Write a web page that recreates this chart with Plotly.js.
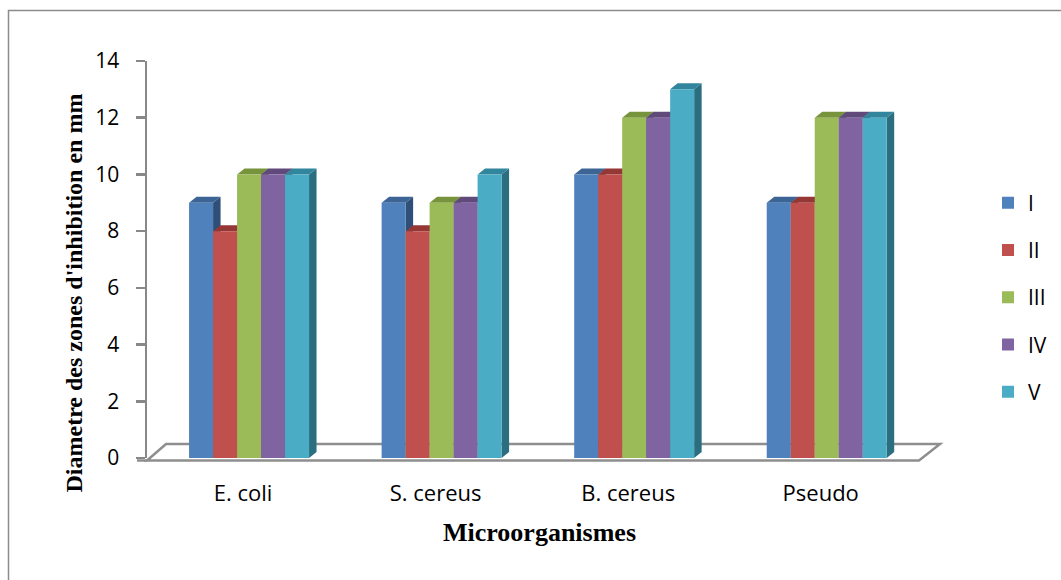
<!DOCTYPE html>
<html>
<head>
<meta charset="utf-8">
<script src="https://cdn.plot.ly/plotly-3.0.1.min.js"></script>
<style>
  html, body { margin: 0; padding: 0; background: #fff; }
  #chart { width: 1061px; height: 580px; }
</style>
</head>
<body>
<div id="chart"></div>
<script>
// Inhibition zone diameters (mm) per microorganism for extracts I–V
const categories = ['E. coli', 'S. cereus', 'B. cereus', 'Pseudo'];
const seriesNames = ['I', 'II', 'III', 'IV', 'V'];
const valuesI   = [9, 9, 10, 9];
const valuesII  = [8, 8, 10, 9];
const valuesIII = [10, 9, 12, 12];
const valuesIV  = [10, 9, 12, 12];
const valuesV   = [10, 10, 13, 12];
const yTicks = [0, 2, 4, 6, 8, 10, 12, 14];

const seriesValues = [valuesI, valuesII, valuesIII, valuesIV, valuesV];
const frontColors = ['#4F81BD', '#C0504D', '#9BBB59', '#8064A2', '#4BACC6'];
const topColors   = ['#3C6494', '#953735', '#77933C', '#604A7B', '#31859C'];
const sideColors  = ['#2F4F78', '#7A2D2B', '#5E7530', '#4D3B62', '#2B6E80'];

// plot geometry (pixels)
const W = 1061, H = 580;
const M = { l: 147, r: 138, t: 61, b: 122, autoexpand: false };
const plotW = W - M.l - M.r, plotH = H - M.t - M.b;
const xRange = [-0.53, 3.5], yRange = [0, 14];
const pxPerX = plotW / (xRange[1] - xRange[0]);
const pxPerY = plotH / (yRange[1] - yRange[0]);

// pixel -> paper helpers for the frame, floor and titles
const px = x => (x - M.l) / plotW;
const py = y => (H - M.b - y) / plotH;

// bar layout: five bars per group
const groupWidth = 0.623;
const barW = groupWidth / seriesNames.length;
// 3D depth of each column, converted to data units
const depthX = 7.5 / pxPerX;
const depthY = 6 / pxPerY;
// category labels sit slightly left of the columns (perspective)
const labelShift = -6 / pxPerX;

const traces = seriesNames.map((name, j) => ({
  type: 'bar',
  name: name,
  legendgroup: name,
  x: categories.map((c, i) => i),
  y: seriesValues[j],
  marker: { color: frontColors[j], line: { width: 0 } },
  hoverinfo: 'skip'
}));

const shapes = [];

// outer chart frame
shapes.push({
  type: 'rect', xref: 'paper', yref: 'paper',
  x0: px(8.5), x1: px(1075), y0: py(595), y1: py(10.5),
  line: { color: '#8C8C8C', width: 1.5 }, fillcolor: 'rgba(0,0,0,0)', layer: 'below'
});

// floor of the 3D plot
shapes.push({
  type: 'path', xref: 'paper', yref: 'paper', layer: 'below',
  path: `M${px(147)},${py(460.5)} L${px(919)},${py(460.5)} L${px(940)},${py(444)} L${px(166)},${py(444)} Z`,
  line: { color: '#8E8E8E', width: 2.5 }, fillcolor: 'rgba(0,0,0,0)'
});
shapes.push({
  type: 'line', xref: 'paper', yref: 'paper', layer: 'below',
  x0: px(137), x1: px(147), y0: py(460.5), y1: py(460.5),
  line: { color: '#8E8E8E', width: 2.5 }
});

// top and side faces of each column, drawn beneath the front faces
categories.forEach((c, i) => {
  seriesNames.forEach((name, j) => {
    const v = seriesValues[j][i];
    const x0 = i - groupWidth / 2 + j * barW;
    const x1 = x0 + barW;
    shapes.push({
      type: 'path', xref: 'x', yref: 'y', layer: 'below',
      path: `M${x1},0 L${x1},${v} L${x1 + depthX},${v + depthY} L${x1 + depthX},${depthY} Z`,
      fillcolor: sideColors[j], line: { width: 0 }
    });
    shapes.push({
      type: 'path', xref: 'x', yref: 'y', layer: 'below',
      path: `M${x0},${v} L${x1},${v} L${x1 + depthX},${v + depthY} L${x0 + depthX},${v + depthY} Z`,
      fillcolor: topColors[j], line: { width: 0 }
    });
  });
});

const tickFont = { family: 'Open Sans, sans-serif', size: 21, color: '#000' };
const catFont = { family: 'Open Sans, sans-serif', size: 22, color: '#000' };

const layout = {
  width: W, height: H,
  margin: M,
  paper_bgcolor: '#fff', plot_bgcolor: 'rgba(0,0,0,0)',
  barmode: 'group',
  bargap: 1 - groupWidth,
  bargroupgap: 0,
  showlegend: true,
  legend: {
    x: px(988), y: py(182.5), xanchor: 'left', yanchor: 'top',
    font: tickFont, tracegroupgap: 17, traceorder: 'grouped',
    bgcolor: 'rgba(0,0,0,0)'
  },
  xaxis: {
    range: xRange, showgrid: false, zeroline: false, showline: false,
    tickvals: categories.map((c, i) => i + labelShift), ticktext: categories,
    ticks: '', tickfont: catFont, ticklabelstandoff: 20
  },
  yaxis: {
    range: yRange, tickvals: yTicks, showgrid: false, zeroline: false,
    showline: true, linecolor: '#888888', linewidth: 2.5,
    ticks: 'outside', ticklen: 9, tickwidth: 2.5, tickcolor: '#888888',
    tickfont: tickFont, ticklabelstandoff: 12
  },
  shapes: shapes,
  annotations: [
    {
      text: "Diametre des zones d'inhibition en mm",
      xref: 'paper', yref: 'paper', x: px(73), y: py(293.5),
      xanchor: 'center', yanchor: 'middle', textangle: -90, showarrow: false,
      font: { family: 'Liberation Serif, Times New Roman, serif', size: 24, color: '#000', weight: 'bold' }
    },
    {
      text: 'Microorganismes',
      xref: 'paper', yref: 'paper', x: px(539), y: py(532),
      xanchor: 'center', yanchor: 'middle', showarrow: false,
      font: { family: 'Liberation Serif, Times New Roman, serif', size: 26, color: '#000', weight: 'bold' }
    }
  ]
};

Plotly.newPlot('chart', traces, layout, { staticPlot: true, displayModeBar: false });
</script>
</body>
</html>
